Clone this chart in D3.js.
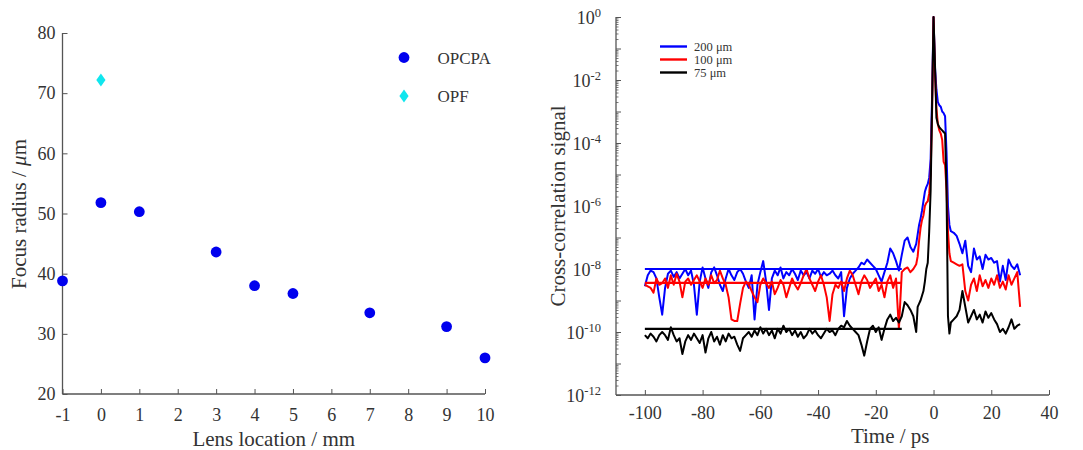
<!DOCTYPE html>
<html><head><meta charset="utf-8">
<script src="https://cdn.jsdelivr.net/npm/d3@7"></script>
<style>
body{margin:0;background:#fff}
svg{display:block}
text{font-family:"Liberation Serif","Times New Roman",serif;fill:#333}
</style>
</head><body>
<svg id="c" width="1083" height="450"></svg>
<script>
// ---------- Left chart data ----------
const lensLocation = [-1, 0, 1, 3, 4, 5, 7, 9, 10];
const opcpaRadius = [38.8, 51.8, 50.3, 43.6, 38.0, 36.7, 33.5, 31.2, 26.0];
const opfLocation = [0];
const opfRadius = [72.2];
const leftXTicks = [-1, 0, 1, 2, 3, 4, 5, 6, 7, 8, 9, 10];
const leftYTicks = [20, 30, 40, 50, 60, 70, 80];
const leftLegend = ["OPCPA", "OPF"];

// ---------- Right chart data (signal given as log10 values) ----------
const timePs = [-100,-99,-98,-97,-96,-95,-94,-93,-92,-91,-90,-89,-88,-87,-86,-85,-84,-83,-82,-81,
-80,-79,-78,-77,-76,-75,-74,-73,-72,-71,-70,-69,-68,-67,-66,-65,-64,-63,-62,-61,
-60,-59,-58,-57,-56,-55,-54,-53,-52,-51,-50,-49,-48,-47,-46,-45,-44,-43,-42,-41,
-40,-39,-38,-37,-36,-35,-34,-33,-32,-31,-30,-29,-28,-27,-26,-25,-24,-23,-22,-21,
-20,-19,-18,-17,-16,-15,-14,-13,-12,-11,-10,-9,-8,-7,-6,
-5.5,-5,-4.5,-4,-3.5,-3,-2.5,-2,-1.5,-1,-0.5,0,0.5,1,1.5,2,2.5,3,3.5,4,4.5,5,5.5,6,
7,8,9,10,11,12,13,14,15,16,17,18,19,20,21,22,23,24,25,26,27,28,29,30];

const log200um = [-8.55,-8.2,-8.05,-8.1,-8.3,-8.9,-9.45,-8.6,-8.15,-8.05,
-8.25,-8.1,-8.3,-8.15,-8.0,-8.2,-8.05,-8.5,-9.45,-8.4,
-7.95,-8.3,-8.6,-8.1,-7.95,-8.2,-8.5,-8.7,-8.3,-8.0,
-8.2,-8.35,-8.1,-8.0,-8.15,-8.4,-8.6,-8.2,-9.6,-8.5,
-8.1,-7.75,-8.4,-9.3,-8.3,-8.05,-8.2,-7.95,-8.3,-8.1,
-8.2,-8.0,-8.15,-8.35,-8.05,-8.2,-8.1,-8.3,-8.05,-8.15,
-8.0,-8.25,-8.1,-8.2,-8.15,-8.05,-8.2,-8.3,-8.1,-9.5,
-8.6,-8.3,-8.15,-8.05,-7.95,-7.8,-7.85,-7.7,-7.8,-7.9,
-8.0,-8.2,-8.4,-8.1,-7.8,-7.35,-7.5,-7.75,-8.05,-7.55,
-7.1,-7.0,-7.3,-7.45,-7.2,
-6.9,-6.6,-6.4,-6.15,-5.85,-5.55,-5.4,-5.3,-5.1,-4.5,-2.5,0,-1.6,-2.3,-2.7,-2.8,-2.85,-3.0,-3.05,-3.15,-4.3,-6.0,-6.6,-6.8,
-6.85,-6.95,-7.2,-7.5,-7.1,-7.9,-8.1,-7.35,-7.7,-7.6,-8.0,-7.55,-7.7,-7.65,-7.8,-7.75,-8.4,-7.9,-8.35,-7.7,-7.9,-8.0,-7.85,-8.2];

const log100um = [-8.5,-8.55,-8.6,-8.75,-8.3,-8.5,-8.45,-8.3,-8.6,-8.2,
-8.5,-8.15,-8.4,-8.9,-8.4,-8.3,-8.5,-8.35,-8.2,-8.4,
-8.6,-8.3,-8.5,-8.2,-8.45,-8.35,-8.05,-8.3,-8.5,-8.9,
-9.6,-9.65,-9.65,-9.1,-8.6,-8.4,-8.5,-8.7,-8.9,-9.05,
-8.5,-8.3,-8.45,-8.6,-8.4,-8.8,-8.6,-8.35,-8.5,-8.9,
-8.6,-8.3,-8.5,-8.65,-8.45,-8.2,-8.0,-8.3,-8.5,-8.7,
-8.4,-8.2,-8.5,-8.9,-9.65,-8.8,-8.5,-8.6,-8.4,-8.7,
-8.3,-8.05,-8.2,-8.5,-8.8,-8.4,-8.2,-8.35,-8.6,-8.45,
-8.3,-8.7,-8.5,-8.9,-8.4,-8.2,-8.6,-8.3,-9.9,-8.1,
-8.0,-7.95,-8.1,-8.0,-7.85,
-7.6,-7.1,-6.7,-6.45,-6.3,-6.0,-5.9,-5.85,-5.6,-5.0,-3.0,0,-1.7,-2.9,-3.4,-3.6,-3.7,-3.9,-4.6,-4.7,-5.5,-6.8,-7.5,-7.75,
-7.8,-7.85,-7.9,-7.85,-8.7,-9.0,-8.5,-8.3,-8.7,-8.2,-8.55,-8.35,-8.6,-8.3,-8.5,-8.2,-8.6,-8.4,-8.65,-8.2,-8.5,-8.3,-8.1,-9.2];

const log75um = [-10.1,-10.2,-10.05,-10.15,-10.3,-10.1,-10.0,-10.1,-10.25,-9.85,
-10.1,-10.3,-10.2,-10.7,-10.3,-10.1,-10.25,-10.05,-10.2,-10.35,
-10.1,-10.65,-10.2,-10.0,-10.3,-10.15,-10.4,-10.1,-10.3,-10.05,
-10.2,-10.15,-10.4,-10.6,-10.2,-10.1,-10.0,-10.15,-9.95,-10.1,
-9.85,-10.05,-9.9,-10.1,-9.95,-10.2,-9.9,-10.05,-9.8,-10.0,
-9.9,-10.1,-9.95,-10.15,-10.0,-10.2,-10.1,-9.9,-10.05,-9.95,
-10.1,-10.2,-10.05,-9.9,-10.0,-9.95,-10.1,-9.9,-9.8,-9.85,
-9.65,-9.8,-9.9,-10.0,-10.1,-10.4,-10.75,-10.3,-9.9,-9.8,
-10.0,-9.85,-10.25,-9.9,-9.6,-9.45,-9.65,-9.55,-9.7,-9.5,
-9.05,-9.15,-9.3,-9.5,-10.0,
-9.2,-9.1,-9.0,-8.85,-8.7,-8.4,-8.0,-7.8,-6.8,-5.5,-2.8,0,-1.5,-3.2,-3.4,-3.5,-3.55,-3.6,-3.65,-3.7,-5.5,-9.5,-10.05,-9.7,
-9.6,-9.5,-9.3,-8.7,-9.2,-9.7,-9.5,-9.3,-9.6,-9.45,-9.7,-9.35,-9.55,-9.4,-9.6,-9.75,-10.0,-9.9,-10.05,-9.85,-9.6,-9.9,-9.8,-9.75];

const seriesNames = ["200 \u03bcm", "100 \u03bcm", "75 \u03bcm"];
const seriesColors = ["#0000ff", "#ff0000", "#000000"];
const baselineLog = [-8.0, -8.44, -9.9];
const baselineSpan = [-100, -11];
const rightXTicks = [-100, -80, -60, -40, -20, 0, 20, 40];
const rightYExponents = [-12, -10, -8, -6, -4, -2, 0];

const svg = d3.select("#c");
const axisColor = "#555";

function styleAxis(g) {
  g.selectAll("path.domain").attr("stroke", axisColor).attr("stroke-width", 1.3);
  g.selectAll(".tick line").attr("stroke", axisColor).attr("stroke-width", 1);
  g.selectAll(".tick text").attr("fill", "#333")
    .style("font-family", '"Liberation Serif","Times New Roman",serif').style("font-size", "18px");
}

// ================= LEFT CHART =================
const xL = d3.scaleLinear().domain([-1, 10]).range([62.5, 485]);
const yL = d3.scaleLinear().domain([20, 80]).range([394, 33]);

const gxL = svg.append("g").attr("transform", `translate(0,${yL(20)})`)
  .call(d3.axisBottom(xL).tickValues(leftXTicks).tickSize(-5).tickPadding(14).tickFormat(d => String(d)));
styleAxis(gxL);
gxL.selectAll("path.domain").attr("d", `M${xL(-1)},0H${xL(10)}`);

const gyL = svg.append("g").attr("transform", `translate(${xL(-1)},0)`)
  .call(d3.axisLeft(yL).tickValues(leftYTicks).tickSize(-5).tickPadding(7).tickFormat(d => String(d)));
styleAxis(gyL);
gyL.selectAll("path.domain").attr("d", `M0,${yL(80)}V${yL(20)}`);

svg.append("g").selectAll("circle").data(lensLocation).join("circle")
  .attr("cx", d => xL(d)).attr("cy", (d, i) => yL(opcpaRadius[i])).attr("r", 5.4)
  .attr("fill", "#0000ee");

function diamond(cx, cy) { return `M${cx},${cy-6.5}L${cx+4.6},${cy}L${cx},${cy+6.5}L${cx-4.6},${cy}Z`; }
svg.append("g").selectAll("path").data(opfLocation).join("path")
  .attr("d", (d, i) => diamond(xL(d), yL(opfRadius[i]))).attr("fill", "#10e6ee");

// legend
const legL = svg.append("g");
legL.append("circle").attr("cx", 404).attr("cy", 57.5).attr("r", 5.4).attr("fill", "#0000ee");
legL.append("path").attr("d", diamond(404, 96)).attr("fill", "#10e6ee");
legL.selectAll("text").data(leftLegend).join("text")
  .attr("x", 437.5).attr("y", (d, i) => 63.5 + i * 38.5).style("font-size", "17px").text(d => d);

// axis labels
svg.append("text").attr("x", xL(4.5)).attr("y", 446).attr("text-anchor", "middle")
  .style("font-size", "21px").text("Lens location / mm");
const ylabL = svg.append("text").attr("transform", "translate(26,214) rotate(-90)")
  .attr("text-anchor", "middle").style("font-size", "21px");
ylabL.append("tspan").text("Focus radius / ");
ylabL.append("tspan").style("font-style", "italic").text("\u03bc");
ylabL.append("tspan").text("m");

// ================= RIGHT CHART =================
const xR = d3.scaleLinear().domain([-110, 40]).range([616, 1049]);
const yR = d3.scaleLog().domain([1e-12, 1]).range([395, 17]);

const gxR = svg.append("g").attr("transform", `translate(0,${yR(1e-12)})`)
  .call(d3.axisBottom(xR).tickValues(rightXTicks).tickSize(-5).tickPadding(11).tickFormat(d => String(d)));
styleAxis(gxR);
gxR.selectAll("path.domain").attr("d", `M${xR(-110)},0H${xR(40)}`);

// minor ticks
const minorVals = [];
for (let e = -12; e < 0; e++) for (let m = 2; m <= 9; m++) minorVals.push(m * Math.pow(10, e));
const gyRminor = svg.append("g").attr("transform", `translate(${xR(-110)},0)`)
  .call(d3.axisLeft(yR).tickValues(minorVals).tickSize(-2.5).tickFormat(""));
styleAxis(gyRminor);
gyRminor.selectAll("path.domain").remove();
gyRminor.selectAll(".tick line").attr("stroke-width", 0.8);

const decadeVals = [];
for (let e = -12; e <= 0; e++) decadeVals.push(Math.pow(10, e));
const gyR = svg.append("g").attr("transform", `translate(${xR(-110)},0)`)
  .call(d3.axisLeft(yR).tickValues(decadeVals).tickSize(-5).tickFormat(""));
styleAxis(gyR);
gyR.selectAll("path.domain").attr("d", `M0,${yR(1)}V${yR(1e-12)}`);
gyR.selectAll(".tick").filter(d => rightYExponents.includes(Math.round(Math.log10(d))))
  .each(function (d) {
    const t = d3.select(this).append("text").attr("x", -15).attr("dy", "0.38em")
      .attr("text-anchor", "end").style("font-size", "18px").attr("fill", "#333");
    t.append("tspan").text("10");
    t.append("tspan").attr("dy", "-0.62em").style("font-size", "12.5px").text(String(Math.round(Math.log10(d))));
  });

// data lines
const allSeries = [log200um, log100um, log75um];
const line = d3.line().x(d => xR(d[0])).y(d => yR(d[1]));
const gLines = svg.append("g");
allSeries.forEach((s, k) => {
  gLines.append("path").datum(timePs.map((t, i) => [t, Math.pow(10, s[i])]))
    .attr("d", line).attr("fill", "none").attr("stroke", seriesColors[k])
    .attr("stroke-width", 2).attr("stroke-linejoin", "round");
});
baselineLog.forEach((b, k) => {
  gLines.append("path").datum(baselineSpan.map(t => [t, Math.pow(10, b)]))
    .attr("d", line).attr("fill", "none").attr("stroke", seriesColors[k]).attr("stroke-width", 2.2);
});

// legend
const legR = svg.append("g");
seriesNames.forEach((n, k) => {
  const yy = 46.5 + k * 13;
  legR.append("line").attr("x1", 660).attr("x2", 687).attr("y1", yy).attr("y2", yy)
    .attr("stroke", seriesColors[k]).attr("stroke-width", 2.4);
  legR.append("text").attr("x", 694).attr("y", yy + 4).style("font-size", "12.5px").text(n);
});

svg.append("text").attr("x", xR(-15)).attr("y", 443).attr("text-anchor", "middle")
  .style("font-size", "21px").text("Time / ps");
svg.append("text").attr("transform", "translate(565,206) rotate(-90)")
  .attr("text-anchor", "middle").style("font-size", "21px").text("Cross-correlation signal");
</script>
</body></html>
